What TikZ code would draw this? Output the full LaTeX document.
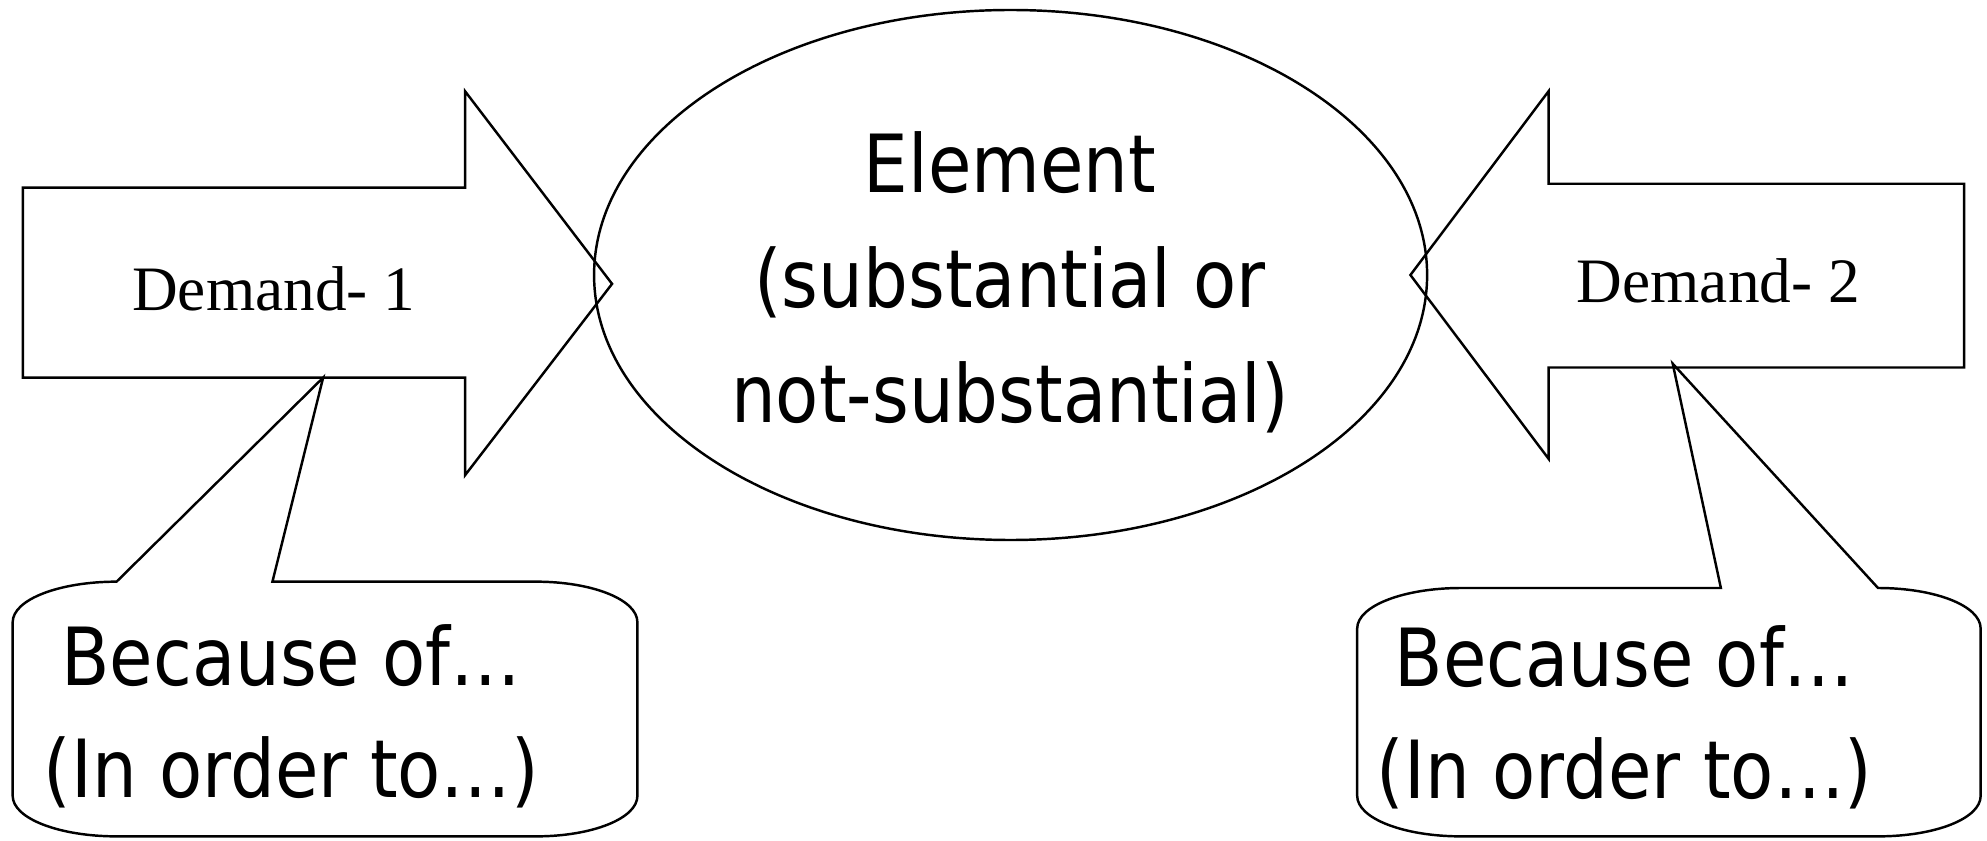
\documentclass[tikz,border=0pt]{standalone}
\usepackage{fontspec}
\setmainfont{Liberation Serif}
\newfontfamily\tahomafont[FakeStretch=0.88]{DejaVu Sans}
\usetikzlibrary{shapes.geometric}

\begin{document}
\begin{tikzpicture}[
x=0.01cm, y=-0.01cm,
outline/.style={draw, line width=0.55pt, line join=miter},
bigtext/.style={align=center, font=\tahomafont\fontsize{18}{25.8}\selectfont},
causetext/.style={align=center, font=\tahomafont\fontsize{18}{25.2}\selectfont},
demandtext/.style={font=\fontsize{14.2}{17}\selectfont}
]
\useasboundingbox (0,0) rectangle (1568,663);
% element in the middle
\node[outline, ellipse, inner sep=0pt, minimum width=6.57cm, minimum height=4.18cm] (elem) at (797.5,217) {};
\node[bigtext] (elemtext) at (797,223) {Element\\(substantial or\\not-substantial)};
% the two demand arrows
\draw[outline] (18,148) -- (367,148) -- (367,72) -- (483,224) -- (367,375) -- (367,298) -- (18,298) -- cycle;
\draw[outline] (1550,145) -- (1222,145) -- (1222,72) -- (1113,217) -- (1222,362) -- (1222,290) -- (1550,290) -- cycle;
\node[demandtext] (dem1) at (216,228) {Demand- 1};
\node[demandtext] (dem2) at (1356,222) {Demand- 2};
% callouts
\coordinate (tip1) at (255,298);
\coordinate (tip2) at (1320,287);
\draw[outline] (92,459) -- (tip1) -- (215,459) -- (423,459)
  .. controls +(44,0) and +(0,-18) .. (503,491) -- (503,628)
  .. controls +(0,18) and +(44,0) .. (423,660) -- (92,660)
  .. controls +(-45,0) and +(0,18) .. (10,628) -- (10,491)
  .. controls +(0,-18) and +(-45,0) .. (92,459) -- cycle;
\draw[outline] (1358,464) -- (tip2) -- (1482,464)
  .. controls +(45,0) and +(0,-18) .. (1563,496) -- (1563,628)
  .. controls +(0,18) and +(45,0) .. (1482,660) -- (1153,660)
  .. controls +(-45,0) and +(0,18) .. (1071,628) -- (1071,496)
  .. controls +(0,-18) and +(-45,0) .. (1153,464) -- cycle;
\node[causetext] (cause1) at (230,565) {Because of…\\(In order to…)};
\node[causetext] (cause2) at (1282,566) {Because of…\\(In order to…)};
\end{tikzpicture}
\end{document}
